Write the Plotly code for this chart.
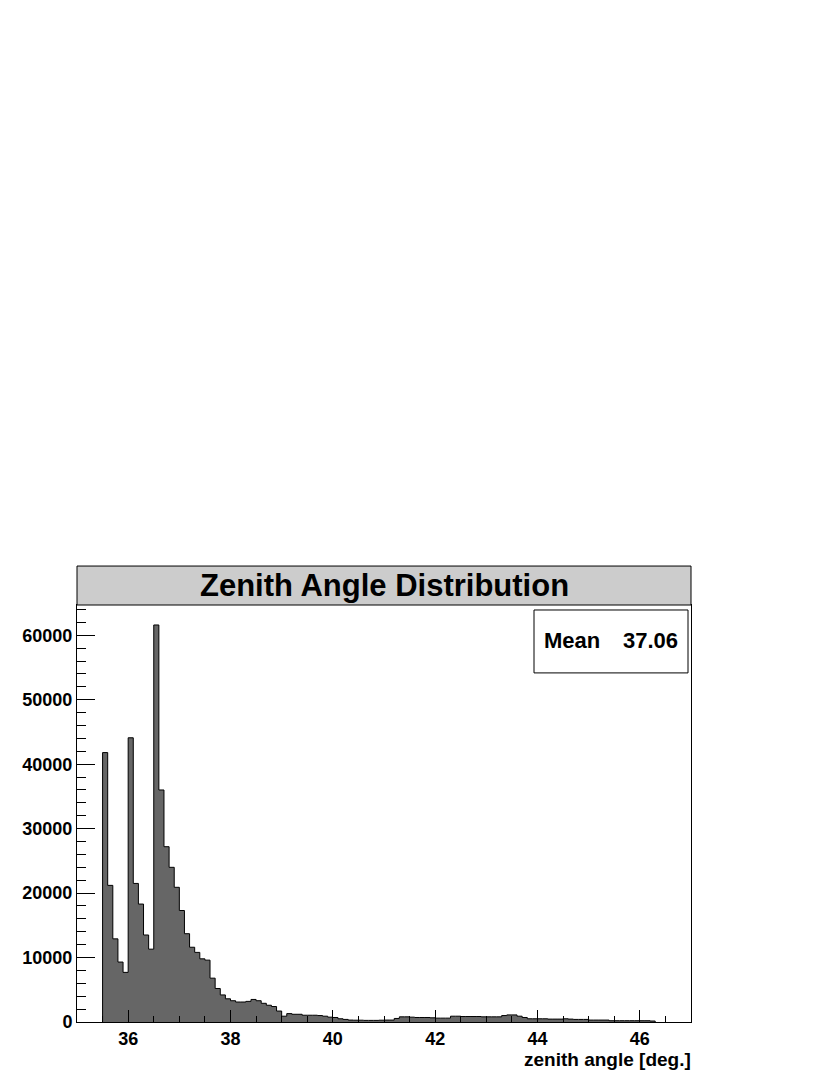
import plotly.graph_objects as go

# histogram: 0.1 deg bins starting at 35.5 deg (counts)
BIN_LO = 35.5
BIN_W = 0.1
COUNTS = [
    41800, 21200, 12900, 9300, 7700, 44100, 21500, 18300, 13500, 11300,
    61600, 36000, 27200, 24000, 20900, 17300, 13700, 11600, 10800, 9800,
    9600, 6800, 5200, 4200, 3600, 3300, 3100, 3100, 3200, 3500,
    3300, 2900, 2600, 2400, 1700, 900, 1300, 1200, 1200, 1050,
    1050, 1050, 1000, 900, 750, 700, 500, 400, 300, 280,
    280, 250, 250, 250, 280, 300, 300, 550, 800, 800,
    750, 700, 700, 700, 650, 600, 600, 600, 900, 900,
    850, 850, 850, 850, 800, 800, 800, 800, 1000, 1100,
    1100, 900, 700, 500, 500, 500, 500, 450, 450, 450,
    500, 450, 400, 400, 400, 300, 300, 300, 300, 200,
    200, 200, 200, 200, 200, 200, 200, 150,
]
TITLE = "Zenith Angle Distribution"
X_TITLE = "zenith angle [deg.]"
MEAN_LABEL = "Mean"
MEAN_VALUE = "37.06"
X_TICKS = [36, 38, 40, 42, 44, 46]
Y_TICKS = [0, 10000, 20000, 30000, 40000, 50000, 60000]

FONT = "Liberation Sans, Arial, Helvetica, sans-serif"

edges = [round(BIN_LO + BIN_W * i, 2) for i in range(len(COUNTS) + 1)]
step_x = [edges[0]] + edges
step_y = [0] + COUNTS + [0]

fig = go.Figure()
fig.add_trace(go.Scatter(
    x=step_x, y=step_y,
    mode="lines",
    line=dict(shape="hv", color="black", width=1),
    fill="tozeroy",
    fillcolor="#666666",
    hoverinfo="skip",
    showlegend=False,
))

# page sits 8px in from the window corner (body margin)
OFF = 8
W, H = 830 - OFF, 1075 - OFF
L, R, T, B = 77 - OFF, 691 - OFF, 605 - OFF, 1022.5 - OFF
plot_h = B - T
pw = R - L
title_top = 566 - OFF

fig.update_layout(
    width=W, height=H,
    margin=dict(l=L, r=W - R, t=T, b=H - B, pad=0),
    paper_bgcolor="white",
    plot_bgcolor="white",
    font=dict(family=FONT, color="black"),
    showlegend=False,
)

fig.update_xaxes(
    range=[35.0, 47.0],
    tickvals=X_TICKS,
    ticktext=[str(v) for v in X_TICKS],
    ticks="inside", ticklen=12, tickwidth=1, tickcolor="black",
    minor=dict(dtick=0.5, tick0=35, ticks="inside", ticklen=6, tickcolor="black", tickwidth=1),
    tickfont=dict(family=FONT, size=18, weight="bold", color="black"),
    showline=True, linecolor="black", linewidth=1, mirror=True,
    showgrid=False, zeroline=False,
)
fig.update_yaxes(
    range=[0, 64700],
    tickvals=Y_TICKS,
    ticktext=[str(v) for v in Y_TICKS],
    ticks="inside", ticklen=18, tickwidth=1, tickcolor="black",
    minor=dict(dtick=2000, tick0=0, ticks="inside", ticklen=9, tickcolor="black", tickwidth=1),
    tickfont=dict(family=FONT, size=18, weight="bold", color="black"),
    showline=True, linecolor="black", linewidth=1, mirror=True,
    showgrid=False, zeroline=False,
)

# title box
ty1 = 1 + (T - title_top) / plot_h
fig.add_shape(type="rect", xref="paper", yref="paper", x0=0, x1=1, y0=1, y1=ty1,
              fillcolor="#cccccc", line=dict(color="black", width=1), layer="above")
fig.add_annotation(text=TITLE, xref="paper", yref="paper", x=0.5, y=(1 + ty1) / 2,
                   xanchor="center", yanchor="middle", showarrow=False,
                   font=dict(family=FONT, size=31, weight="bold", color="black"))


# page pixel positions converted to paper fractions
def px_x(px):
    return (px - OFF - L) / pw


def px_y(py):
    return (B - (py - OFF)) / plot_h


# stats box
fig.add_shape(type="rect", xref="paper", yref="paper",
              x0=px_x(534), x1=px_x(688), y0=px_y(673), y1=px_y(610),
              fillcolor="white", line=dict(color="black", width=1), layer="above")
fig.add_annotation(text=MEAN_LABEL, xref="paper", yref="paper", x=px_x(542), y=px_y(641),
                   xanchor="left", yanchor="middle", showarrow=False,
                   font=dict(family=FONT, size=22, weight="bold", color="black"))
fig.add_annotation(text=MEAN_VALUE, xref="paper", yref="paper", x=px_x(680), y=px_y(641),
                   xanchor="right", yanchor="middle", showarrow=False,
                   font=dict(family=FONT, size=22, weight="bold", color="black"))

# x-axis title, right aligned under the axis
fig.add_annotation(text=X_TITLE, xref="paper", yref="paper", x=px_x(693), y=px_y(1060),
                   xanchor="right", yanchor="middle", showarrow=False,
                   font=dict(family=FONT, size=19, weight="bold", color="black"))

fig.write_html("out.html")
